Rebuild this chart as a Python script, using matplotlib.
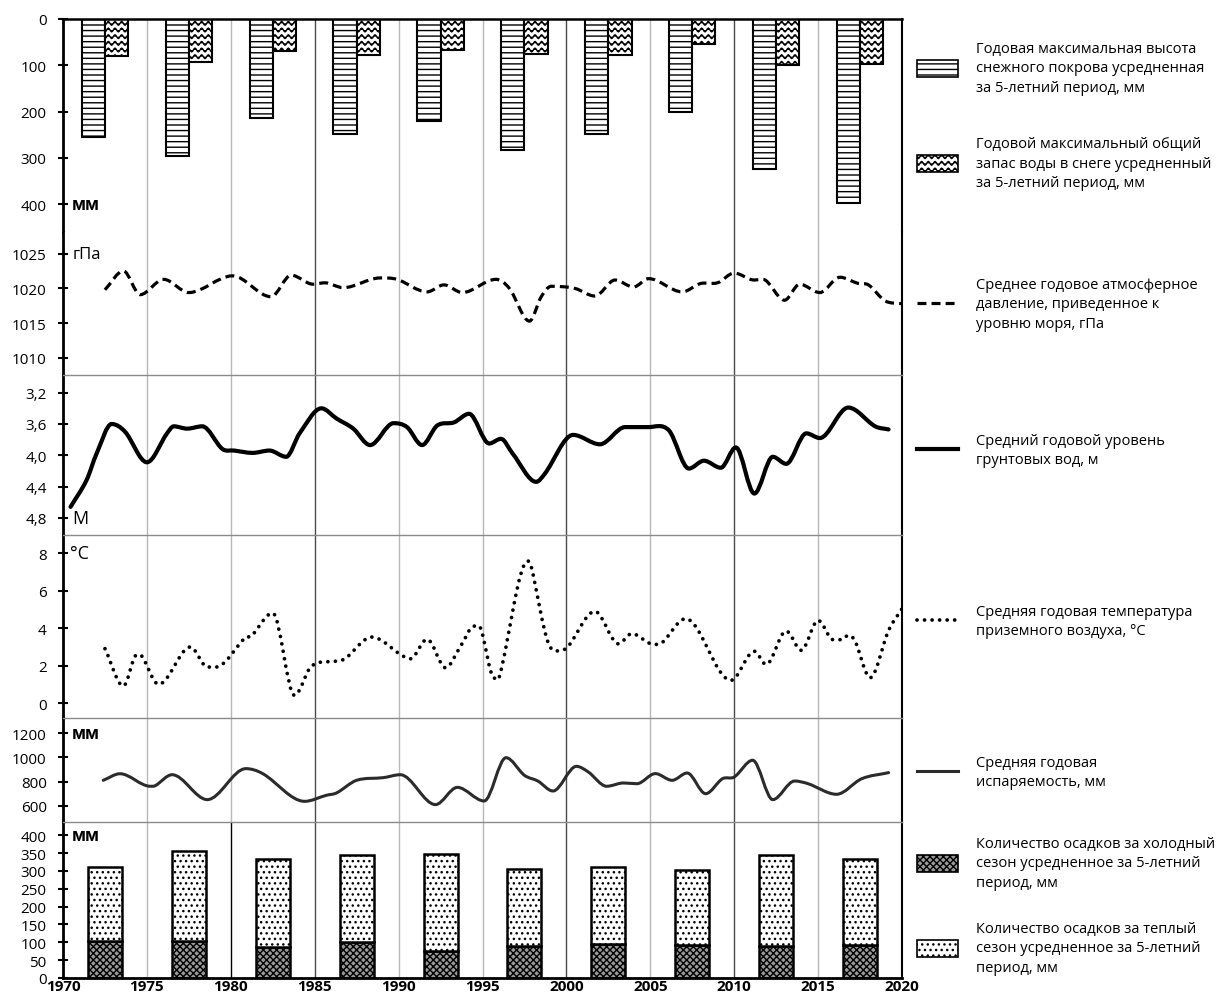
import warnings
import numpy as np
import matplotlib
matplotlib.use('Agg')
import matplotlib.pyplot as plt
import matplotlib.hatch as mhatch
from matplotlib.path import Path
from matplotlib.patches import PathPatch, Patch
from matplotlib.lines import Line2D

warnings.filterwarnings('ignore')
plt.rcParams['font.family'] = ['Open Sans', 'DejaVu Sans']
plt.rcParams['hatch.linewidth'] = 1.0

# ---- data ----
# 5-year periods (bar centres)
period_mid = [1972.5, 1977.5, 1982.5, 1987.5, 1992.5, 1997.5, 2002.5, 2007.5, 2012.5, 2017.5]
snow_depth = [254, 296, 214, 248, 221, 282, 248, 200, 325, 398]
snow_swe = [79, 92, 70, 77, 68, 75, 77, 53, 99, 97]
precip_cold = [103, 103, 86, 100, 77, 91, 94, 92, 91, 92]
precip_warm = [207, 253, 246, 245, 271, 215, 217, 210, 254, 242]

# sea level pressure, hPa
pres_x = [1972.5, 1973.6, 1974.6, 1976.0, 1977.5, 1980.1, 1982.4, 1983.6, 1984.9, 1985.6,
          1986.7, 1988.9, 1989.9, 1991.7, 1992.7, 1993.8, 1995.8, 1996.6, 1997.8, 1998.5,
          1999.1, 2000.5, 2001.7, 2002.9, 2004.0, 2004.9, 2006.9, 2008.0, 2009.0, 2010.0,
          2011.2, 2011.7, 2013.0, 2013.9, 2015.1, 2016.3, 2017.4, 2018.0, 2019.0, 2020.0]
pres_hpa = [1019.8, 1022.5, 1019.1, 1021.3, 1019.4, 1021.8, 1018.8, 1021.9, 1020.6, 1020.8,
            1020.1, 1021.5, 1021.3, 1019.5, 1020.5, 1019.4, 1021.3, 1020.0, 1015.3, 1018.8,
            1020.3, 1020.0, 1018.9, 1021.2, 1020.2, 1021.4, 1019.5, 1020.7, 1020.8, 1022.2,
            1021.2, 1021.3, 1018.3, 1020.6, 1019.4, 1021.6, 1020.7, 1020.5, 1018.2, 1017.8]

# groundwater level, m
gw_x = [1970.45, 1971.4, 1972.0, 1972.9, 1973.7, 1975.0, 1976.2, 1976.6, 1977.4, 1978.3,
        1979.5, 1980.2, 1981.3, 1982.3, 1983.3, 1984.1, 1985.4, 1986.3, 1987.3, 1988.3,
        1989.7, 1990.5, 1991.4, 1992.3, 1993.3, 1994.2, 1995.4, 1996.1, 1996.8, 1998.2,
        1998.7, 2000.4, 2002.0, 2003.5, 2004.9, 2006.1, 2007.3, 2008.2, 2009.2, 2010.1,
        2011.2, 2012.3, 2013.1, 2014.3, 2015.1, 2016.8, 2018.4, 2019.2]
gw_m = [4.66, 4.32, 3.98, 3.60, 3.70, 4.09, 3.72, 3.63, 3.66, 3.63,
        3.92, 3.94, 3.97, 3.94, 4.02, 3.72, 3.40, 3.53, 3.66, 3.87,
        3.59, 3.64, 3.87, 3.62, 3.58, 3.47, 3.85, 3.79, 3.98, 4.34,
        4.24, 3.74, 3.86, 3.64, 3.64, 3.68, 4.17, 4.07, 4.16, 3.90,
        4.49, 4.02, 4.11, 3.72, 3.78, 3.39, 3.63, 3.67]

# air temperature, C
temp_x = [1972.5, 1973.6, 1974.4, 1974.7, 1975.7, 1977.6, 1978.6, 1979.1, 1980.9, 1981.2,
          1982.5, 1983.8, 1984.8, 1986.3, 1986.8, 1988.4, 1990.2, 1990.7, 1991.7, 1992.8,
          1993.7, 1994.5, 1994.9, 1995.7, 1996.0, 1997.7, 1997.9, 1998.9, 1999.7, 2000.1,
          2001.7, 2003.1, 2003.9, 2005.2, 2005.7, 2007.1, 2009.8, 2010.1, 2011.2, 2011.9,
          2013.1, 2014.0, 2015.0, 2015.9, 2016.4, 2016.8, 2017.2, 2018.1, 2019.2, 2020.0]
temp_c = [2.9, 0.91, 2.58, 2.5, 1.0, 2.99, 1.92, 1.92, 3.52, 3.55,
          4.8, 0.41, 1.96, 2.24, 2.36, 3.52, 2.54, 2.36, 3.4, 1.88,
          3.04, 4.1, 3.96, 1.33, 1.39, 7.57, 7.29, 3.25, 2.81, 3.02,
          4.89, 3.16, 3.7, 3.13, 3.22, 4.5, 1.21, 1.39, 2.76, 2.06,
          3.84, 2.81, 4.41, 3.38, 3.38, 3.61, 3.31, 1.35, 3.87, 5.03]

# evaporation, mm
evap_x = [1972.4, 1973.4, 1975.2, 1975.5, 1976.5, 1978.6, 1980.9, 1981.9, 1984.4, 1985.7,
          1986.3, 1987.5, 1989.1, 1990.1, 1992.2, 1993.5, 1995.1, 1996.4, 1997.5, 1998.3,
          1999.2, 2000.6, 2001.3, 2002.4, 2003.4, 2004.2, 2005.3, 2006.3, 2007.2, 2008.3,
          2009.3, 2010.0, 2011.1, 2012.3, 2013.6, 2014.4, 2016.1, 2017.6, 2019.2]
evap_mm = [811, 865, 762, 767, 857, 652, 907, 866, 638, 688,
           707, 811, 833, 857, 611, 753, 641, 997, 852, 805,
           723, 926, 880, 762, 789, 783, 866, 811, 871, 701,
           824, 838, 976, 652, 805, 783, 696, 824, 874]

legend_labels = [
    'Годовая максимальная высота\nснежного покрова усредненная\nза 5-летний период, мм',
    'Годовой максимальный общий\nзапас воды в снеге усредненный\nза 5-летний период, мм',
    'Среднее годовое атмосферное\nдавление, приведенное к\nуровню моря, гПа',
    'Средний годовой уровень\nгрунтовых вод, м',
    'Средняя годовая температура\nприземного воздуха, °С',
    'Средняя годовая\nиспаряемость, мм',
    'Количество осадков за холодный\nсезон усредненное за 5-летний\nпериод, мм',
    'Количество осадков за теплый\nсезон усредненное за 5-летний\nпериод, мм',
]


# wavy hatch for the snow water equivalent bars ('~')
class WaveHatch(mhatch.HatchPatternBase):
    def __init__(self, hatch, density):
        self.num_rows = int(hatch.count('~') * density * 0.85)
        self.num_waves = self.num_rows
        self.n = 8 * self.num_waves + 1
        self.num_vertices = self.num_rows * self.n

    def set_vertices_and_codes(self, vertices, codes):
        k = np.arange(self.n)
        xs = k / (self.n - 1)
        wig = 0.28 / self.num_rows * np.sin(2 * np.pi * k / 8)
        for i in range(self.num_rows):
            sl = slice(i * self.n, (i + 1) * self.n)
            vertices[sl, 0] = xs
            vertices[sl, 1] = (i + 0.5) / self.num_rows + wig
            codes[sl] = Path.LINETO
            codes[i * self.n] = Path.MOVETO


mhatch._hatch_types.append(WaveHatch)
mhatch._validate_hatch_pattern = lambda hatch: None


def smooth_line(ax, x, y, **kw):
    # smooth curve through the points (cubic Hermite drawn as Bezier segments)
    x = np.asarray(x, float)
    y = np.asarray(y, float)
    m = np.zeros_like(y)
    m[0] = (y[1] - y[0]) / (x[1] - x[0])
    m[-1] = (y[-1] - y[-2]) / (x[-1] - x[-2])
    for i in range(1, len(x) - 1):
        if (y[i] - y[i - 1]) * (y[i + 1] - y[i]) <= 0:
            m[i] = 0.0
        else:
            m[i] = (y[i + 1] - y[i - 1]) / (x[i + 1] - x[i - 1])
    verts = [(x[0], y[0])]
    codes = [Path.MOVETO]
    for i in range(len(x) - 1):
        h = x[i + 1] - x[i]
        verts += [(x[i] + h / 3, y[i] + m[i] * h / 3),
                  (x[i + 1] - h / 3, y[i + 1] - m[i + 1] * h / 3),
                  (x[i + 1], y[i + 1])]
        codes += [Path.CURVE4] * 3
    patch = PathPatch(Path(verts, codes), fill=False, **kw)
    ax.add_patch(patch)
    return patch


W, H = 1220, 1003
fig = plt.figure(figsize=(W / 100, H / 100), dpi=100)

bounds = [20, 233, 375.7, 536, 718.7, 823, 979]
left_px, right_px = 63, 902
axes = []
for i in range(6):
    top, bot = bounds[i], bounds[i + 1]
    ax = fig.add_axes([left_px / W, 1 - bot / H, (right_px - left_px) / W, (bot - top) / H])
    ax.set_xlim(1970, 2020)
    ax.set_xticks(range(1970, 2021, 5))
    ax.grid(axis='x', color='#b8b8b8', linewidth=1.0)
    ax.set_axisbelow(True)
    ax.tick_params(axis='x', length=0, labelbottom=(i == 5), pad=1, labelsize=11)
    ax.tick_params(axis='y', direction='inout', length=7.5, width=1.5, pad=8, labelsize=11)
    ax.spines['left'].set_linewidth(2)
    ax.spines['right'].set_linewidth(1.5)
    ax.spines['top'].set_color('#8a8a8a')
    ax.spines['top'].set_linewidth(1.0)
    ax.spines['bottom'].set_visible(False)
    dark = [1985, 2000, 2010] + ([1980] if i == 5 else [])
    for yr, gl in zip(range(1970, 2021, 5), ax.xaxis.get_gridlines()):
        if yr in dark:
            gl.set_color('#4a4a4a' if yr != 1980 else 'black')
    axes.append(ax)

ax_snow, ax_pres, ax_gw, ax_temp, ax_evap, ax_prec = axes
mid = np.array(period_mid)

# snow
ax_snow.spines['top'].set_color('black')
ax_snow.spines['top'].set_linewidth(1.8)
ax_snow.set_ylim(460, 0)
ax_snow.set_yticks([0, 100, 200, 300, 400])
ax_snow.bar(mid - 0.69, snow_depth, width=1.38, facecolor='white', edgecolor='black',
            linewidth=1.5, hatch='---')
ax_snow.bar(mid + 0.69, snow_swe, width=1.38, facecolor='white', edgecolor='black',
            linewidth=1.5, hatch='~~~')
ax_snow.text(1970.5, 400, 'мм', va='center', ha='left', fontsize=12, fontweight='bold')

# pressure
ax_pres.spines['top'].set_visible(False)
ax_pres.set_ylim(1007.6, 1028.1)
ax_pres.set_yticks([1010, 1015, 1020, 1025])
smooth_line(ax_pres, pres_x, pres_hpa, edgecolor='black', linewidth=2.3,
            linestyle=(0, (2.8, 1.6)))
ax_pres.text(1970.55, 1025, 'гПа', va='center', ha='left', fontsize=12)

# groundwater
ax_gw.set_ylim(5.02, 2.97)
gw_ticks = [3.2, 3.6, 4.0, 4.4, 4.8]
ax_gw.set_yticks(gw_ticks)
ax_gw.set_yticklabels([f'{v:.1f}'.replace('.', ',') for v in gw_ticks])
smooth_line(ax_gw, gw_x, gw_m, edgecolor='black', linewidth=3.0, capstyle='round',
            joinstyle='round')
ax_gw.text(1970.55, 4.8, 'М', va='center', ha='left', fontsize=13)

# temperature
ax_temp.set_ylim(-0.78, 8.96)
ax_temp.set_yticks([0, 2, 4, 6, 8])
smooth_line(ax_temp, temp_x, temp_c, edgecolor='black', linewidth=2.7,
            linestyle=(0, (0.01, 2.0)), capstyle='round')
ax_temp.text(1970.4, 8, '°С', va='center', ha='left', fontsize=13)

# evaporation
ax_evap.set_ylim(468, 1326)
ax_evap.set_yticks([600, 800, 1000, 1200])
smooth_line(ax_evap, evap_x, evap_mm, edgecolor='#2b2b2b', linewidth=2.2,
            capstyle='round', joinstyle='round')
ax_evap.text(1970.5, 1200, 'мм', va='center', ha='left', fontsize=12, fontweight='bold')

# precipitation
ax_prec.set_ylim(0, 437)
ax_prec.set_yticks(range(0, 401, 50))
ax_prec.spines['bottom'].set_visible(True)
ax_prec.spines['bottom'].set_linewidth(2)
ax_prec.bar(mid, precip_cold, width=2.03, facecolor='#9a9a9a', edgecolor='black',
            linewidth=1.8, hatch='xxxxx')
ax_prec.bar(mid, precip_warm, bottom=precip_cold, width=2.03, facecolor='white',
            edgecolor='black', linewidth=1.8, hatch='...')
ax_prec.text(1970.5, 400, 'мм', va='center', ha='left', fontsize=12, fontweight='bold')
for lab in ax_prec.get_xticklabels():
    lab.set_fontweight('bold')

# legend on the right, one entry per panel
handles = [
    Patch(facecolor='white', edgecolor='black', hatch='---', linewidth=1.2),
    Patch(facecolor='white', edgecolor='black', hatch='~~~', linewidth=1.2),
    Line2D([], [], color='black', linewidth=2.3, linestyle=(0, (2.8, 1.6))),
    Line2D([], [], color='black', linewidth=3.0),
    Line2D([], [], color='black', linewidth=2.7, linestyle=(0, (0.01, 2.0)),
           dash_capstyle='round'),
    Line2D([], [], color='#2b2b2b', linewidth=2.2),
    Patch(facecolor='#9a9a9a', edgecolor='black', hatch='xxxxx', linewidth=1.2),
    Patch(facecolor='white', edgecolor='black', hatch='...', linewidth=1.2),
]
legend_y = [69, 164, 305, 451, 622, 773, 864, 949]
for h, lab, y in zip(handles, legend_labels, legend_y):
    leg = fig.legend(handles=[h], labels=[lab], loc='center left',
                     bbox_to_anchor=(917 / W, 1 - y / H), frameon=False,
                     borderpad=0, borderaxespad=0, handlelength=2.8, handleheight=1.4,
                     handletextpad=1.25, fontsize=10.5)
    for t in leg.get_texts():
        t.set_linespacing(1.45)

fig.savefig('out.png', dpi=100)
